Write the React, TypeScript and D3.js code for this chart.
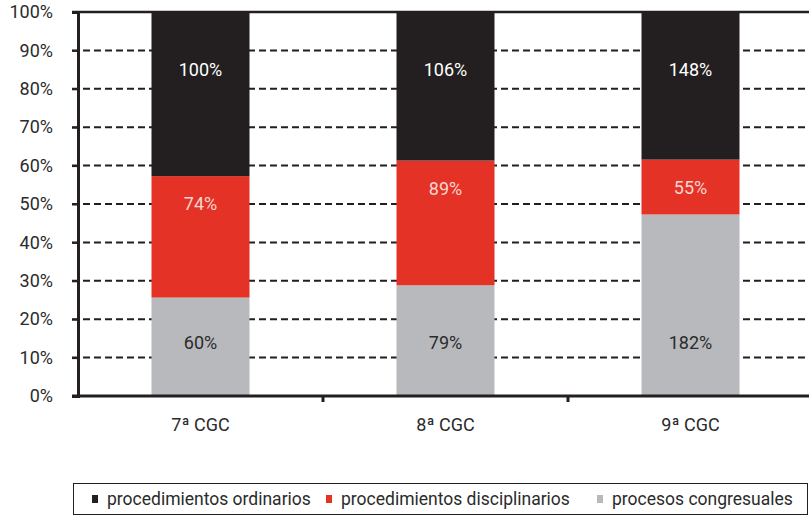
import { useRef, useEffect } from "react";
import * as d3 from "d3";

const categories = ["7ª CGC", "8ª CGC", "9ª CGC"];
const congresuales = [60, 79, 182];
const disciplinarios = [74, 89, 55];
const ordinarios = [100, 106, 148];
const seriesNames = [
  "procesos congresuales",
  "procedimientos disciplinarios",
  "procedimientos ordinarios",
];
const yTicks = [0, 0.1, 0.2, 0.3, 0.4, 0.5, 0.6, 0.7, 0.8, 0.9, 1];

const colors = ["#b8b9bc", "#e43326", "#231f20"];
const labelColors = ["#2b2b2b", "#f6d6d2", "#ffffff"];
const textColor = "#2b2b2b";
const FONT = "Roboto, 'DejaVu Sans', sans-serif";

type Row = { cat: string; [k: string]: string | number };

const App = () => {
  const ref = useRef<SVGSVGElement | null>(null);
  const width = 809;
  const height = 517;
  const margin = { top: 12, right: 0, bottom: 121, left: 78 };
  const plotW = 735;

  useEffect(() => {
    if (!ref.current) return;
    const svg = d3.select(ref.current);
    svg.selectAll("*").remove();

    const rows: Row[] = categories.map((c, i) => ({
      cat: c,
      [seriesNames[0]]: congresuales[i],
      [seriesNames[1]]: disciplinarios[i],
      [seriesNames[2]]: ordinarios[i],
    }));

    const layers = d3
      .stack<Row>()
      .keys(seriesNames)
      .value((d, k) => d[k] as number)
      .offset(d3.stackOffsetExpand)(rows);

    const x = d3
      .scaleBand()
      .domain(categories)
      .range([margin.left, margin.left + plotW])
      .paddingInner(0.6)
      .paddingOuter(0.3);
    const y = d3
      .scaleLinear()
      .domain([0, 1])
      .range([height - margin.bottom, margin.top]);

    // gridlines
    svg
      .append("g")
      .selectAll("line")
      .data(yTicks.filter((t) => t > 0))
      .join("line")
      .attr("x1", margin.left - 6)
      .attr("x2", width)
      .attr("y1", (d) => y(d))
      .attr("y2", (d) => y(d))
      .attr("stroke", "#231f20")
      .attr("stroke-width", (d) => (d === 1 ? 2.5 : 2))
      .attr("stroke-dasharray", (d) => (d === 1 ? null : "7,4"));

    // label placement per series: grey low, red near its top, black high
    const labelY = (li: number, d: d3.SeriesPoint<Row>) => {
      if (li === 0) return y(0.14);
      if (li === 1) return y(d[1]) + 28;
      return y(0.85);
    };

    const g = svg.append("g");
    layers.forEach((layer, li) => {
      g.append("g")
        .selectAll("rect")
        .data(layer)
        .join("rect")
        .attr("x", (d) => x(d.data.cat as string)!)
        .attr("width", x.bandwidth())
        .attr("y", (d) => y(d[1]))
        .attr("height", (d) => y(d[0]) - y(d[1]))
        .attr("fill", colors[li]);

      g.append("g")
        .selectAll("text")
        .data(layer)
        .join("text")
        .attr("x", (d) => x(d.data.cat as string)! + x.bandwidth() / 2)
        .attr("y", (d) => labelY(li, d))
        .attr("dy", "0.35em")
        .attr("text-anchor", "middle")
        .attr("font-family", FONT)
        .attr("font-size", 18)
        .attr("fill", labelColors[li])
        .text((d) => `${d.data[seriesNames[li]]}%`);
    });

    // y axis
    const yAxis = svg
      .append("g")
      .attr("transform", `translate(${margin.left},0)`)
      .call(
        d3
          .axisLeft(y)
          .tickValues(yTicks)
          .tickFormat((d) => `${Math.round((d as number) * 100)}%`)
          .tickSize(6)
          .tickPadding(19)
      );
    yAxis.select(".domain").attr("stroke", "#231f20").attr("stroke-width", 3);
    yAxis.selectAll(".tick line").attr("stroke", "#231f20").attr("stroke-width", 2);
    yAxis
      .selectAll(".tick text")
      .attr("font-family", FONT)
      .attr("font-size", 18)
      .attr("fill", textColor);

    // x axis
    const y0 = y(0);
    svg
      .append("line")
      .attr("x1", margin.left - 6)
      .attr("x2", width)
      .attr("y1", y0)
      .attr("y2", y0)
      .attr("stroke", "#231f20")
      .attr("stroke-width", 3);
    svg
      .append("g")
      .selectAll("line")
      .data([1, 2])
      .join("line")
      .attr("x1", (i) => margin.left + (plotW / 3) * i)
      .attr("x2", (i) => margin.left + (plotW / 3) * i)
      .attr("y1", y0)
      .attr("y2", y0 + 6)
      .attr("stroke", "#231f20")
      .attr("stroke-width", 3);

    svg
      .append("g")
      .selectAll("text")
      .data(categories)
      .join("text")
      .attr("x", (d) => x(d)! + x.bandwidth() / 2)
      .attr("y", y0 + 35)
      .attr("text-anchor", "middle")
      .attr("font-family", FONT)
      .attr("font-size", 18)
      .attr("fill", textColor)
      .text((d) => d);

    // legend
    const lg = svg.append("g");
    lg.append("rect")
      .attr("x", 73.5)
      .attr("y", 483.5)
      .attr("width", 734)
      .attr("height", 31)
      .attr("fill", "white")
      .attr("stroke", "#231f20")
      .attr("stroke-width", 1);
    const order = [2, 1, 0];
    const xs = [107, 341, 612];
    order.forEach((si, i) => {
      lg.append("rect")
        .attr("x", xs[i] - 15)
        .attr("y", 495)
        .attr("width", 6)
        .attr("height", 8)
        .attr("fill", colors[si]);
      lg.append("text")
        .attr("x", xs[i])
        .attr("y", 505)
        .attr("font-family", FONT)
        .attr("font-size", 17.5)
        .attr("fill", textColor)
        .text(seriesNames[si]);
    });
  }, []);

  return (
    <svg
      ref={ref}
      width={width}
      height={height}
      style={{ position: "absolute", left: 0, top: 0, background: "white" }}
    />
  );
};

export default App;
